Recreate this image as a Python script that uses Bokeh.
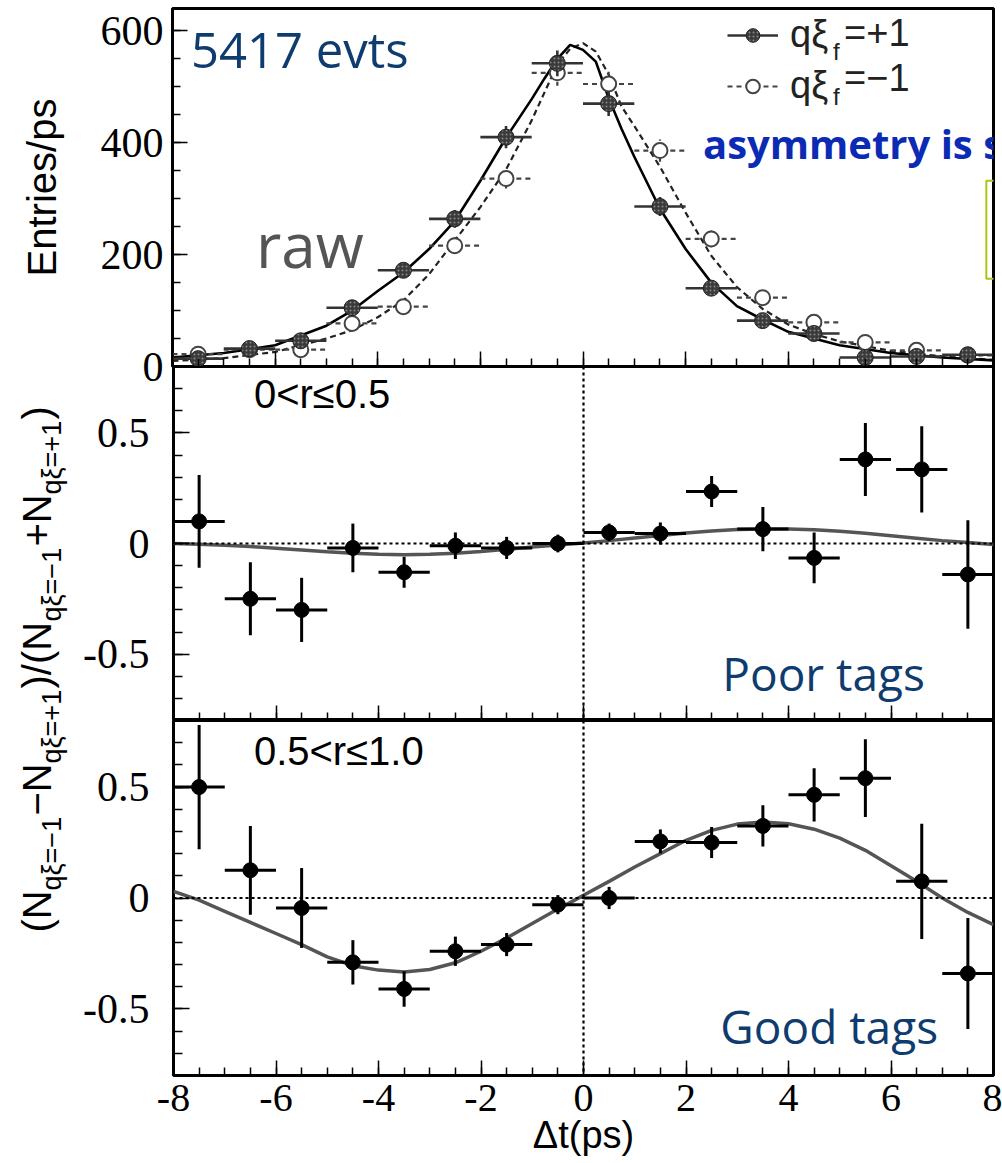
import numpy as np
from bokeh.plotting import figure
from bokeh.models import (Range1d, Span, Label, Legend, LegendItem, SingleIntervalTicker,
                          FixedTicker, ColumnDataSource, BoxAnnotation, CustomJSTickFormatter)
from bokeh.layouts import column, row
from bokeh.embed import file_html
from bokeh.resources import INLINE

# ---------------- data ----------------
t_bins = [-7.5, -6.5, -5.5, -4.5, -3.5, -2.5, -1.5, -0.5, 0.5, 1.5, 2.5, 3.5, 4.5, 5.5, 6.5, 7.5]
raw_plus = [14, 32, 46, 105, 172, 264, 410, 542, 470, 286, 140, 82, 59, 16, 18, 21]
raw_plus_err = [4, 6, 7, 10, 13, 16, 20, 23, 22, 17, 12, 9, 8, 4, 4, 4]
raw_minus = [22, 30, 30, 77, 107, 216, 336, 525, 505, 386, 228, 123, 79, 43, 29, 20]
raw_minus_err = [5, 5, 5, 9, 10, 15, 18, 23, 22, 20, 15, 11, 9, 6, 5, 4]

fit_t = [-8, -7, -6, -5, -4.5, -4, -3.5, -3, -2.5, -2, -1.5, -1, -0.75, -0.5, -0.25, 0,
         0.25, 0.5, 0.75, 1, 1.5, 2, 2.5, 3, 3.5, 4, 4.5, 5, 6, 7, 8]
fit_plus = [16, 24, 38, 73, 100, 135, 168, 210, 260, 332, 409, 478, 515, 550, 575, 566,
            545, 480, 425, 375, 282, 210, 150, 108, 84, 62, 50, 38, 24, 16, 11]
fit_minus = [10, 15, 26, 50, 65, 88, 118, 165, 225, 285, 352, 440, 490, 540, 568, 578,
             563, 522, 465, 430, 357, 275, 198, 142, 103, 75, 58, 45, 28, 18, 12]

asym_t = [-7.5, -6.5, -5.5, -4.5, -3.5, -2.5, -1.5, -0.5, 0.5, 1.5, 2.5, 3.5, 4.5, 5.5, 6.6, 7.5]
poor_a = [0.10, -0.25, -0.30, -0.02, -0.13, -0.01, -0.02, 0.0, 0.05, 0.045, 0.235, 0.065,
          -0.065, 0.38, 0.335, -0.14]
poor_err = [0.21, 0.165, 0.145, 0.11, 0.07, 0.06, 0.05, 0.04, 0.04, 0.05, 0.07, 0.10,
            0.115, 0.165, 0.195, 0.245]
good_a = [0.50, 0.125, -0.045, -0.29, -0.41, -0.24, -0.21, -0.03, 0.0, 0.255, 0.25, 0.325,
          0.465, 0.54, 0.075, -0.34]
good_err = [0.28, 0.20, 0.18, 0.10, 0.08, 0.066, 0.052, 0.043, 0.05, 0.054, 0.07, 0.093,
            0.12, 0.175, 0.26, 0.25]

curve_t = [-8, -7.5, -7, -6.5, -6, -5.5, -5, -4.5, -4, -3.5, -3, -2.5, -2, -1.5, -1, -0.5, 0,
           0.5, 1, 1.5, 2, 2.5, 3, 3.5, 4, 4.5, 5, 5.5, 6, 6.5, 7, 7.5, 8]
poor_fit = [0.0, -0.003, -0.008, -0.014, -0.021, -0.029, -0.037, -0.044, -0.049, -0.051,
            -0.049, -0.044, -0.036, -0.026, -0.016, -0.007, 0.002, 0.013, 0.025, 0.036,
            0.047, 0.056, 0.063, 0.066, 0.066, 0.062, 0.055, 0.046, 0.035, 0.024, 0.013,
            0.004, -0.004]
good_fit = [0.03, -0.01, -0.06, -0.11, -0.16, -0.21, -0.265, -0.305, -0.325, -0.333, -0.322,
            -0.292, -0.24, -0.18, -0.115, -0.05, 0.012, 0.075, 0.14, 0.2, 0.26, 0.305, 0.333,
            0.342, 0.335, 0.31, 0.27, 0.215, 0.145, 0.075, 0.0, -0.065, -0.12]

SERIF = "Liberation Serif"
SANS = "Liberation Sans"
HAND = "Open Sans"
NAVY = "#0f3c6e"
MID = 0.38  # label anchor sits ~0.38 em above the baseline


def err_source(t, v, e, half=0.5):
    t = np.asarray(t, float); v = np.asarray(v, float); e = np.asarray(e, float)
    return ColumnDataSource(dict(t=t, v=v, x0=t - half, x1=t + half, lo=v - e, hi=v + e))


def style_frame(p, show_xlabels=False):
    p.outline_line_color = "black"
    p.outline_line_width = 3
    p.xgrid.visible = False
    p.ygrid.visible = False
    for ax in (p.xaxis[0], p.yaxis[0]):
        ax.axis_line_color = None
        ax.major_tick_out = 0
        ax.minor_tick_out = 0
        ax.major_tick_line_color = "black"
        ax.minor_tick_line_color = "black"
        ax.major_tick_line_width = 1.5
        ax.minor_tick_line_width = 1.5
        ax.major_label_text_font = SERIF
        ax.major_label_text_font_size = "42px"
        ax.major_label_text_color = "black"
        ax.axis_label_text_color = "black"
    p.xaxis[0].ticker = SingleIntervalTicker(interval=2, num_minor_ticks=4)
    p.xaxis[0].major_tick_in = 15
    p.xaxis[0].minor_tick_in = 8
    p.yaxis[0].major_tick_in = 16
    p.yaxis[0].minor_tick_in = 9
    if show_xlabels:
        p.xaxis[0].formatter = CustomJSTickFormatter(code="return tick.toString()")
    else:
        p.xaxis[0].formatter = CustomJSTickFormatter(code="return ''")
        p.xaxis[0].major_label_standoff = 0


# ---------------- top panel ----------------
TOP_PX = 358 / 640.0
top = figure(width=1002, height=390, x_range=Range1d(-8, 8), y_range=Range1d(0, 640),
             output_backend="svg", toolbar_location=None,
             min_border_left=172, min_border_right=9, min_border_top=8, min_border_bottom=24)
style_frame(top)
top.yaxis[0].ticker = SingleIntervalTicker(interval=200, num_minor_ticks=4)
top.yaxis[0].major_label_standoff = 9
top.yaxis[0].major_tick_in = 15
top.yaxis[0].minor_tick_in = 8
top.yaxis[0].axis_label = "Entries/ps"
top.yaxis[0].axis_label_text_font = SANS
top.yaxis[0].axis_label_text_font_size = "40px"
top.yaxis[0].axis_label_text_font_style = "normal"
top.yaxis[0].axis_label_standoff = 34

src_p = err_source(t_bins, raw_plus, raw_plus_err)
src_m = err_source(t_bins, raw_minus, raw_minus_err)

top.line(fit_t, fit_minus, line_color="#222222", line_width=2.2, line_dash="6 4")
top.line(fit_t, fit_plus, line_color="black", line_width=2.6)

xm = top.segment("x0", "v", "x1", "v", source=src_m, line_color="#444444", line_width=2.2,
                 line_dash="5 4")
top.segment("t", "lo", "t", "hi", source=src_m, line_color="#444444", line_width=2.2,
            line_dash="4 3")
sm = top.scatter("t", "v", source=src_m, size=15, marker="circle", fill_color="white",
                 line_color="#444444", line_width=2)
xp = top.segment("x0", "v", "x1", "v", source=src_p, line_color="#333333", line_width=2.6)
top.segment("t", "lo", "t", "hi", source=src_p, line_color="#333333", line_width=2.6)
sp = top.scatter("t", "v", source=src_p, size=16, marker="circle", fill_color="#3a3a3a",
                 line_color="#222222", line_width=1, hatch_pattern="dot",
                 hatch_color="#888888", hatch_scale=4)

legend = Legend(items=[LegendItem(label="qξ", renderers=[xp, sp]),
                       LegendItem(label="qξ", renderers=[xm, sm])],
                location=(555, 259), orientation="vertical",
                border_line_color=None, background_fill_alpha=0,
                label_text_font=SANS, label_text_font_size="38px", label_text_color="#222222",
                glyph_width=51, glyph_height=34, label_standoff=12, spacing=8,
                padding=0, margin=0)
top.add_layout(legend)


def top_y(base_py, fs):
    return (366 - (base_py - MID * fs)) / TOP_PX


def top_x(px):
    return (px - 582) / 51.31


for txt, px, py, fs in [("f", 832, 60, 24), ("=+1", 843, 47, 38),
                        ("f", 832, 105, 24), ("=−1", 843, 92, 38)]:
    top.add_layout(Label(x=top_x(px), y=top_y(py, fs), text=txt, text_font=SANS,
                         text_font_size=f"{fs}px", text_color="#222222",
                         text_baseline="alphabetic"))

top.add_layout(Label(x=top_x(190), y=top_y(67, 49), text="5417 evts", text_font=HAND,
                     text_font_size="49px", text_color=NAVY, text_baseline="alphabetic"))
top.add_layout(Label(x=top_x(255), y=top_y(267, 62), text="raw", text_font=HAND,
                     text_font_size="62px", text_color="#555555", text_baseline="alphabetic"))
top.add_layout(Label(x=top_x(702), y=top_y(158, 40), text="asymmetry is s", text_font=HAND,
                     text_font_size="40px", text_font_style="bold", text_color="#0b2bb5",
                     text_baseline="alphabetic"))
top.add_layout(BoxAnnotation(left=7.86, right=8.4, bottom=157, top=332, fill_color=None,
                             line_color="#a8c814", line_alpha=1.0, line_width=2))


# ---------------- asymmetry panels ----------------
def asym_panel(height, border_bottom, zero_py, a, e, fit, region, cuttxt, cut_base,
               tag_px, tag_base, show_xlabels):
    p = figure(width=922, height=height, x_range=Range1d(-8, 8), y_range=Range1d(-0.8, 0.8),
               output_backend="svg", toolbar_location=None,
               min_border_left=92, min_border_right=9, min_border_top=0,
               min_border_bottom=border_bottom, border_fill_color=None)
    style_frame(p, show_xlabels)
    p.yaxis[0].ticker = FixedTicker(ticks=[-0.5, 0, 0.5],
                                    minor_ticks=np.round(np.arange(-0.8, 0.81, 0.1), 2).tolist())
    p.yaxis[0].formatter = CustomJSTickFormatter(
        code="return tick == 0 ? '0' : tick.toFixed(1)")
    p.yaxis[0].major_label_standoff = 24
    p.add_layout(Span(location=0, dimension="width", line_color="black", line_width=2.2,
                      line_dash="3 3"))
    p.add_layout(Span(location=0, dimension="height", line_color="black", line_width=2.2,
                      line_dash="3 3"))
    p.line(curve_t, fit, line_color="#555555", line_width=3.5)
    src = err_source(asym_t, a, e)
    p.segment("x0", "v", "x1", "v", source=src, line_color="black", line_width=3)
    p.segment("t", "lo", "t", "hi", source=src, line_color="black", line_width=3)
    p.scatter("t", "v", source=src, size=15, marker="circle", fill_color="black",
              line_color="black")

    def ay(base_py, fs):
        return (zero_py - (base_py - MID * fs)) / 222.0

    p.add_layout(Label(x=top_x(252), y=ay(cut_base, 40), text=cuttxt, text_font=SANS,
                       text_font_size="40px", text_color="black", text_baseline="alphabetic"))
    p.add_layout(Label(x=top_x(tag_px), y=ay(tag_base, 46), text=region, text_font=HAND,
                       text_font_size="46px", text_color=NAVY, text_baseline="alphabetic"))
    return p


mid = asym_panel(354, 0, 543, poor_a, poor_err, poor_fit, "Poor tags", "0<r≤0.5", 408,
                 721, 690, False)
bot = asym_panel(443, 88, 897, good_a, good_err, good_fit, "Good tags", "0.5<r≤1.0", 765,
                 719, 1043, True)
bot.xaxis[0].major_label_text_font_size = "40px"
bot.xaxis[0].major_label_standoff = 9
bot.xaxis[0].axis_label = "Δt(ps)"
bot.xaxis[0].axis_label_text_font = SANS
bot.xaxis[0].axis_label_text_font_size = "38px"
bot.xaxis[0].axis_label_text_font_style = "normal"
bot.xaxis[0].axis_label_standoff = 0

# ---------------- shared y label (rotated, with subscripts) ----------------
lab = figure(width=80, height=797, x_range=Range1d(0, 80), y_range=Range1d(1163, 366),
             output_backend="svg", toolbar_location=None, x_axis_type=None, y_axis_type=None,
             min_border=0, outline_line_color=None, border_fill_color=None,
             background_fill_color=None)
lab.xgrid.visible = False
lab.ygrid.visible = False
MAIN_FS, SUB_FS = 40, 27
pieces = [("(N", 932, False), ("qξ=−1", 890, True), ("−N", 815, False),
          ("qξ=+1", 763, True), (")/(N", 688, False), ("qξ=−1", 621, True),
          ("+N", 546, False), ("qξ=+1", 494, True), (")", 419, False)]
for txt, y, sub in pieces:
    fs = SUB_FS if sub else MAIN_FS
    base = 62 if sub else 52
    lab.add_layout(Label(x=base - MID * fs, y=y, text=txt, angle=np.pi / 2, text_font=SANS,
                         text_font_size=f"{fs}px", text_color="black", text_align="left",
                         text_baseline="alphabetic"))

layout = column(top, row(lab, column(mid, bot), margin=(-24, 0, 0, 0)))

open("out.html", "w").write(file_html(layout, INLINE))
